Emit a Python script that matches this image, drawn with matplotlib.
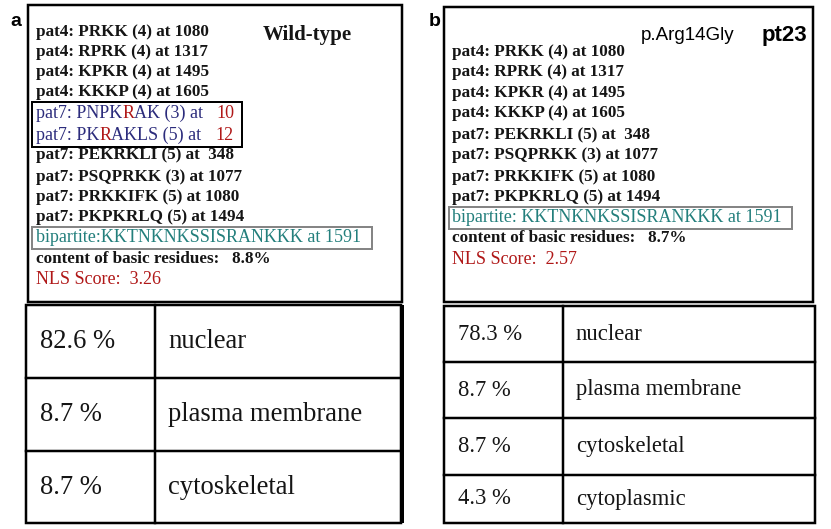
import matplotlib.pyplot as plt
from matplotlib.patches import Rectangle

# ---- data ----
wt_motifs = [
    "pat4: PRKK (4) at 1080",
    "pat4: RPRK (4) at 1317",
    "pat4: KPKR (4) at 1495",
    "pat4: KKKP (4) at 1605",
]
wt_pat7_highlight = [
    [("pat7: PNPK", "blue"), ("R", "red"), ("AK (3) at   ", "blue"), ("10", "red")],
    [("pat7: PK", "blue"), ("R", "red"), ("AKLS (5) at   ", "blue"), ("12", "red")],
]
pat7_motifs = [
    "pat7: PEKRKLI (5) at  348",
    "pat7: PSQPRKK (3) at 1077",
    "pat7: PRKKIFK (5) at 1080",
    "pat7: PKPKRLQ (5) at 1494",
]
wt_bipartite = "bipartite:KKTNKNKSSISRANKKK at 1591"
mut_bipartite = "bipartite: KKTNKNKSSISRANKKK at 1591"
basic_content = [8.8, 8.7]
nls_score = [3.26, 2.57]

wt_pct = [82.6, 8.7, 8.7]
wt_loc = ["nuclear", "plasma membrane", "cytoskeletal"]
mut_pct = [78.3, 8.7, 8.7, 4.3]
mut_loc = ["nuclear", "plasma membrane", "cytoskeletal", "cytoplasmic"]

colors = {"black": "#151515", "blue": "#2c2c7c", "red": "#b01818",
          "teal": "#237f7c", "gray": "#858585"}

SERIF = "Liberation Serif"
SANS = "Liberation Sans"

fig = plt.figure(figsize=(8.31, 5.29), dpi=100)
ax = fig.add_axes([0, 0, 1, 1])
ax.set_xlim(0, 831)
ax.set_ylim(529, 0)
ax.axis("off")

PX = 0.72  # points per pixel


def box(x0, y0, x1, y1, color="black", lw=2.5):
    ax.add_patch(Rectangle((x0, y0), x1 - x0, y1 - y0, fill=False,
                           edgecolor=color, linewidth=lw * PX))


def line(x, y, s, color="black", size=12.3, weight="bold"):
    ax.text(x, y, s, color=colors[color], fontsize=size, family=SERIF,
            weight=weight, va="center", ha="left")


def parts_line(x, y, parts, size=13):
    t = ax.text(x, y, parts[0][0], color=colors[parts[0][1]], fontsize=size,
                family=SERIF, va="center", ha="left")
    for s, c in parts[1:]:
        t = ax.annotate(s, xy=(1, 0), xycoords=t, va="bottom", ha="left",
                        color=colors[c], fontsize=size, family=SERIF)


def table(x0, xm, x1, edges, pct, loc, size, lw=2.5):
    y0, y1 = edges[0], edges[-1]
    box(x0, y0, x1, y1, lw=lw)
    ax.plot([xm, xm], [y0, y1], color="black", lw=lw * PX)
    for e in edges[1:-1]:
        ax.plot([x0, x1], [e, e], color="black", lw=lw * PX)
    for i, (p, l) in enumerate(zip(pct, loc)):
        yc = (edges[i] + edges[i + 1]) / 2
        ax.text(x0 + 14, yc, f"{p} %", fontsize=size, family=SERIF,
                va="center", ha="left", color=colors["black"])
        ax.text(xm + 13, yc, l, fontsize=size, family=SERIF,
                va="center", ha="left", color=colors["black"])


# ---- panel a ----
box(28, 5, 402, 302)
ax.text(10, 22, "a", fontsize=14, family=SANS, weight="bold", va="center")
ax.text(263, 35, "Wild-type", fontsize=15, family=SERIF, weight="bold",
        va="center", color=colors["black"])

ys = [32, 52, 72, 92, 113, 135, 155, 177, 197, 217, 238, 259, 280]
for y, s in zip(ys[:4], wt_motifs):
    line(36, y, s)
for y, p in zip(ys[4:6], wt_pat7_highlight):
    parts_line(36, y, p)
box(32, 102, 242, 147, lw=2)
for y, s in zip(ys[6:10], pat7_motifs):
    line(36, y, s)
line(36, ys[10], wt_bipartite, "teal", size=13, weight="normal")
box(32, 227, 372, 249, color=colors["gray"], lw=2)
line(36, ys[11], f"content of basic residues:   {basic_content[0]}%")
line(36, ys[12], f"NLS Score:  {nls_score[0]}", "red", size=13, weight="normal")

table(26, 155, 401, [305, 378, 451, 523], wt_pct, wt_loc, 19.2)
ax.plot([402, 402], [305, 523], color="black", lw=4 * PX,
        solid_capstyle="butt")

# ---- panel b ----
box(444, 7, 813, 302)
ax.text(429, 22, "b", fontsize=14, family=SANS, weight="bold", va="center")
ax.text(641, 36, "p.Arg14Gly", fontsize=13.5, family=SANS, va="center",
        color="black")
ax.text(762, 35, "pt23", fontsize=16, family=SANS, weight="bold",
        va="center", color="black")

ys_b = [52, 72, 93, 113, 135, 155, 177, 197, 217, 238, 259]
for y, s in zip(ys_b[:8], wt_motifs + pat7_motifs):
    line(452, y, s)
line(452, ys_b[8], mut_bipartite, "teal", size=13, weight="normal")
box(449, 207, 792, 229, color=colors["gray"], lw=2)
line(452, ys_b[9], f"content of basic residues:   {basic_content[1]}%")
line(452, ys_b[10], f"NLS Score:  {nls_score[1]}", "red", size=13, weight="normal")

table(444, 563, 815, [306, 362, 418, 475, 523], mut_pct, mut_loc, 16.3)

fig.savefig("out.png", dpi=100)
